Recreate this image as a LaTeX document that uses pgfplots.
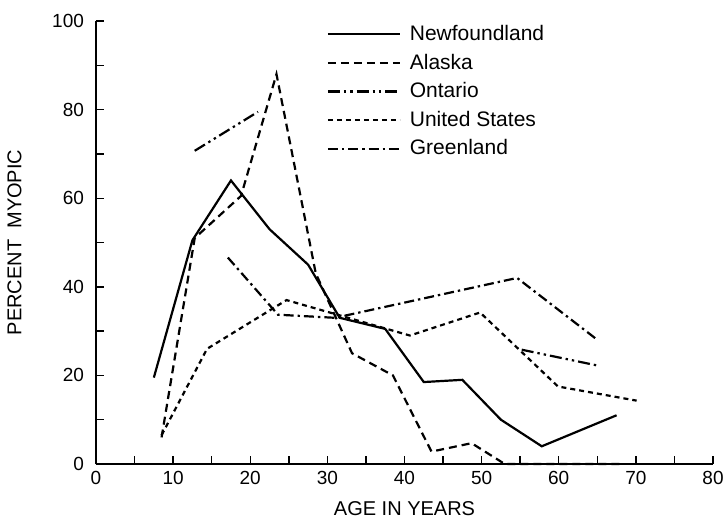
\documentclass[border=0pt]{standalone}
\usepackage{pgfplots}
\pgfplotsset{compat=1.18}
\usepackage{fontspec}
\setmainfont{Liberation Sans}
\begin{document}
\begin{tikzpicture}
\path[use as bounding box] (-48pt,-30.5pt) rectangle (315.5pt,232pt);
\begin{axis}[
  scale only axis,
  width=308.5pt, height=221.5pt,
  xmin=0, xmax=80, ymin=0, ymax=100,
  clip=false,
  axis x line*=bottom, axis y line*=left,
  axis line style={-, line width=0.8pt},
  xtick={0,10,...,80}, minor xtick={5,15,...,75},
  ytick={0,20,...,100}, minor ytick={10,30,...,90},
  tick align=inside,
  major tick length=4pt, minor tick length=4pt,
  tick style={line width=0.7pt, black},
  /pgf/number format/assume math mode=true,
  ticklabel style={font=\fontsize{9.5}{11}\selectfont},
  yticklabel style={xshift=-2.5pt},
  xlabel={AGE IN YEARS}, ylabel={PERCENT\ \ MYOPIC},
  label style={font=\fontsize{10}{12}\selectfont},
  xlabel style={yshift=-1.5pt},
  ylabel style={yshift=8.5pt},
  legend style={draw=none, fill=none, at={(axis cs:29.6,100.5)}, anchor=north west,
    font=\fontsize{10.5}{12}\selectfont, row sep=1.2pt, inner sep=1pt},
  legend cell align=left,
  legend image code/.code={\draw[#1] (0pt,0pt) -- (36pt,0pt); \path (38.5pt,0pt);},
]
\addplot[black, no marks, line width=1.1pt] coordinates {(7.5,19.5) (12.5,50.5) (17.5,64) (22.5,53) (27.5,45) (31.6,33) (37.5,30.5) (42.5,18.5) (47.5,19) (52.5,10) (57.8,4) (67.5,11)};
\addlegendentry{Newfoundland}
\addplot[black, no marks, line width=1.1pt, dash pattern=on 4pt off 2.5pt] coordinates {(8.5,6) (12.8,51) (18.8,60.5) (23.4,88) (28.5,43) (33.2,25) (38.5,20) (43.5,2.8) (48.7,4.7) (53,0) (68.4,0)};
\addlegendentry{Alaska}
\addplot[black, no marks, line width=1.1pt, dash pattern=on 6pt off 2pt on 1.2pt off 2pt on 1.2pt off 2pt] coordinates {(12.8,70.7) (21,79.5)};
\addlegendentry{Ontario}
\addplot[black, no marks, line width=1.1pt, dash pattern=on 2.5pt off 2pt] coordinates {(8.5,6.5) (14.4,26) (24.7,37) (40.7,29) (49.8,34.2) (59.9,17.5) (70.1,14.3)};
\addlegendentry{United States}
\addplot[black, no marks, line width=1.1pt, dash pattern=on 5pt off 2pt on 1.2pt off 2pt] coordinates {(17.1,46.6) (23.6,33.7) (31,33) (54.6,42) (65.1,27.9)};
\addlegendentry{Greenland}
\addplot[forget plot, black, no marks, line width=1.1pt, dash pattern=on 6pt off 2pt on 1.2pt off 2pt on 1.2pt off 2pt] coordinates {(55.2,25.8) (65.1,22.2)};
\end{axis}
\end{tikzpicture}
\end{document}
